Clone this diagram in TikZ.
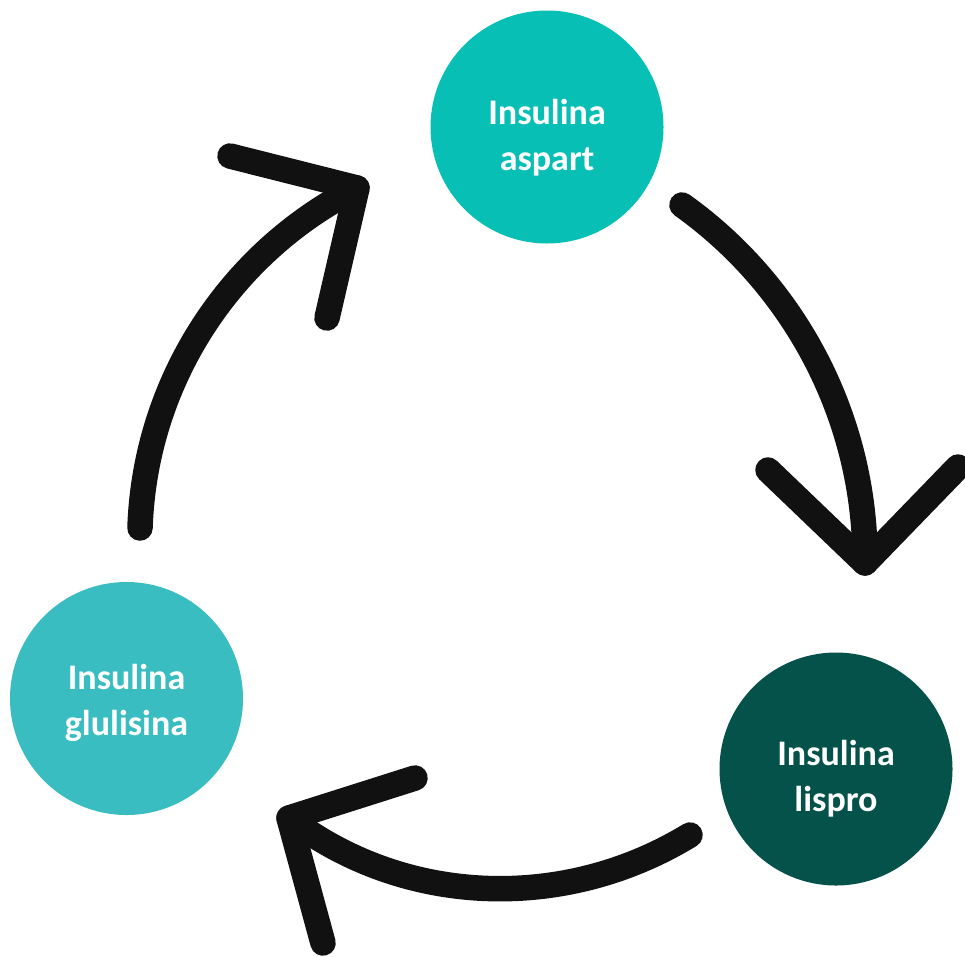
\documentclass[tikz,border=0pt]{standalone}
\usepackage{fontspec}
\setmainfont{Carlito}
\definecolor{cAspart}{HTML}{08BFB5}
\definecolor{cLispro}{HTML}{04524A}
\definecolor{cGlul}{HTML}{3ABDC1}
\definecolor{ink}{HTML}{111111}
\begin{document}
\begin{tikzpicture}[x=1pt,y=-1pt,
  bubble/.style={circle, minimum size=233pt, inner sep=0pt, draw=none},
  lbl/.style={text=white, font=\fontsize{36}{46}\selectfont\bfseries, align=center, inner sep=0pt},
  arrowline/.style={draw=ink, line width=25.5pt, line cap=round, line join=round}]
\useasboundingbox (0,0) rectangle (965,956);

% circles
\node[bubble, fill=cAspart] (aspart) at (547,127) {};
\node[bubble, fill=cLispro] (lispro) at (836,769) {};
\node[bubble, fill=cGlul] (glul) at (126.5,698.5) {};
\node[lbl] (aspartT) at ([yshift=-11pt]aspart.center) {Insulina\\aspart};
\node[lbl] (lisproT) at ([yshift=-10pt]lispro.center) {Insulina\\lispro};
\node[lbl] (glulT) at ([yshift=-4pt]glul.center) {Insulina\\glulisina};

% arrow 1 (glulisina -> aspart)
\coordinate (s1) at (140,528);
\coordinate (e1) at (357,188);
\coordinate (h1a) at (230,156);
\coordinate (h1b) at (327,318);
\draw[arrowline] (s1) .. controls (144.8,383.6) and (228.1,253.3) .. (e1);
\draw[arrowline] (h1a) -- (e1) -- (h1b);

% arrow 2 (aspart -> lispro)
\coordinate (s2) at (682,205);
\coordinate (e2) at (865,563);
\coordinate (h2a) at (768,470);
\coordinate (h2b) at (958,467);
\draw[arrowline] (s2) .. controls (797,287) and (866,421) .. (e2);
\draw[arrowline] (h2a) -- (e2) -- (h2b);

% arrow 3 (lispro -> glulisina)
\coordinate (s3) at (690,835);
\coordinate (e3) at (289,818);
\coordinate (h3a) at (415,778);
\coordinate (h3b) at (323,943);
\draw[arrowline] (s3) .. controls (565,911.5) and (404.7,906.6) .. (e3);
\draw[arrowline] (h3a) -- (e3) -- (h3b);
\end{tikzpicture}
\end{document}
